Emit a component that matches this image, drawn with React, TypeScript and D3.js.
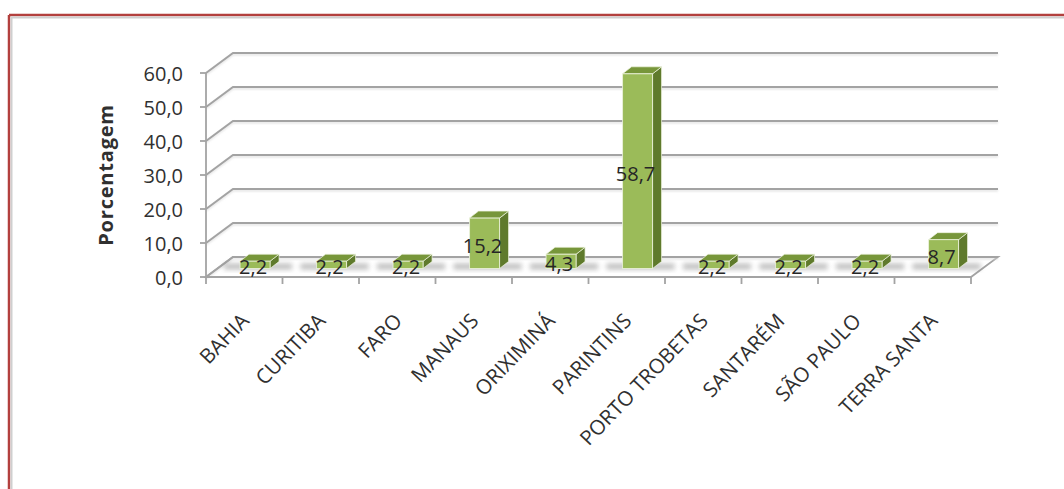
import React from "react";
import * as d3 from "d3";

const categories = ["BAHIA", "CURITIBA", "FARO", "MANAUS", "ORIXIMINÁ", "PARINTINS", "PORTO TROBETAS", "SANTARÉM", "SÃO PAULO", "TERRA SANTA"];
const values = [2.2, 2.2, 2.2, 15.2, 4.3, 58.7, 2.2, 2.2, 2.2, 8.7];
const yTicks = [0, 10, 20, 30, 40, 50, 60];
const yTitle = "Porcentagem";

const W = 1064;
const H = 489;
const DX = 27; // depth offset of back wall
const DY = -20;
const BAR_D = 0.4; // depth fraction of bar front face
const SIDE_DX = 9;
const SIDE_DY = -7;
const BAR_W = 30;

const fmt = (v: number) => v.toFixed(1).replace(".", ",");

export default function App() {
  const x = d3.scaleBand<string>().domain(categories).range([206, 971]).padding(0);
  const y = d3.scaleLinear().domain([0, 60]).range([277, 73]);
  const yBar = d3.scaleLinear().domain([0, 60]).range([277 + DY * BAR_D - 0.5, 277 + DY * BAR_D - 0.5 - 199]);

  const x0 = x.range()[0];
  const x1 = x.range()[1];
  const y0 = y(0);
  const font = "'Open Sans', sans-serif";
  const txt = "#303030";
  const grid = "#a3a3a3";

  const boundaries = categories.map((c) => x(c) as number).concat([x1]);

  return (
    <svg width={W} height={H} style={{ position: "absolute", left: 0, top: 0, background: "#fff" }}>
      <defs>
        <filter id="blur" x="-50%" y="-50%" width="200%" height="200%">
          <feGaussianBlur stdDeviation="2.5" />
        </filter>
        <filter id="lshadow" x="-5%" y="-50%" width="110%" height="200%">
          <feGaussianBlur stdDeviation="0.8" />
        </filter>
      </defs>
      {/* outer frame */}
      <line x1={9} y1={15} x2={W} y2={15} stroke="#b3403e" strokeWidth={2.5} />
      <line x1={9} y1={15} x2={9} y2={H} stroke="#b3403e" strokeWidth={2.5} />
      <line x1={11} y1={17.5} x2={W} y2={17.5} stroke="#cfcfcf" strokeWidth={2} />
      <line x1={11.5} y1={17} x2={11.5} y2={H} stroke="#cfcfcf" strokeWidth={2} />

      {/* floor */}
      <polygon
        points={`${x0},${y0} ${x1},${y0} ${x1 + DX},${y0 + DY} ${x0 + DX},${y0 + DY}`}
        fill="#fff"
        stroke={grid}
        strokeWidth={1.8}
      />

      {/* gridlines: side wall + back wall */}
      {yTicks.map((t) => (
        <g key={"g" + t}>
          <polyline
            points={`${x0},${y(t) + 1.5} ${x0 + DX},${y(t) + DY + 1.5} ${x1 + DX},${y(t) + DY + 1.5}`}
            fill="none"
            stroke="#d8d8d8"
            strokeWidth={1.5}
            filter="url(#lshadow)"
          />
          <polyline
            points={`${x0},${y(t)} ${x0 + DX},${y(t) + DY} ${x1 + DX},${y(t) + DY}`}
            fill="none"
            stroke={grid}
            strokeWidth={2}
          />
          <line x1={x0 - 6} y1={y(t)} x2={x0} y2={y(t)} stroke={grid} strokeWidth={1.8} />
          <text
            x={183}
            y={y(t)}
            textAnchor="end"
            dominantBaseline="central"
            fontFamily={font}
            fontSize={20}
            fill={txt}
          >
            {fmt(t)}
          </text>
        </g>
      ))}
      {/* vertical axis line */}
      <line x1={x0} y1={y(60)} x2={x0} y2={y0} stroke={grid} strokeWidth={1.8} />
      {/* floor front line & ticks */}
      <line x1={x0} y1={y0} x2={x1} y2={y0} stroke={grid} strokeWidth={2} />
      {boundaries.map((b, i) => (
        <line key={"t" + i} x1={b} y1={y0} x2={b} y2={y0 + 7} stroke={grid} strokeWidth={1.8} />
      ))}

      {/* bar shadows */}
      {categories.map((c, i) => {
        const cx = (x(c) as number) + x.bandwidth() / 2 + DX * BAR_D;
        const by = yBar(0);
        return (
          <rect
            key={"s" + i}
            x={cx - BAR_W / 2 - 16}
            y={by - 5}
            width={BAR_W + 38}
            height={6}
            fill="#8a8a8a"
            opacity={0.55}
            filter="url(#blur)"
          />
        );
      })}

      {/* bars */}
      {categories.map((c, i) => {
        const v = values[i];
        const cx = (x(c) as number) + x.bandwidth() / 2 + DX * BAR_D;
        const l = cx - BAR_W / 2;
        const r = cx + BAR_W / 2;
        const b = yBar(0);
        const t = yBar(v);
        return (
          <g key={"b" + i}>
            <polygon
              points={`${r},${b} ${r + SIDE_DX},${b + SIDE_DY} ${r + SIDE_DX},${t + SIDE_DY} ${r},${t}`}
              fill="#5f7a2c"
              stroke="#eef4e0"
              strokeWidth={1}
              strokeOpacity={0.7}
            />
            <polygon
              points={`${l},${t} ${r},${t} ${r + SIDE_DX},${t + SIDE_DY} ${l + SIDE_DX},${t + SIDE_DY}`}
              fill="#77963a"
              stroke="#eef4e0"
              strokeWidth={1}
              strokeOpacity={0.7}
            />
            <rect x={l} y={t} width={BAR_W} height={b - t} fill="#9bbb59" stroke="#eef4e0" strokeWidth={1} strokeOpacity={0.8} />
          </g>
        );
      })}

      {/* data labels */}
      {categories.map((c, i) => {
        const v = values[i];
        const cx = (x(c) as number) + x.bandwidth() / 2 + DX * BAR_D - 2;
        const my = (yBar(0) + yBar(v)) / 2 + 2;
        return (
          <text
            key={"l" + i}
            x={cx}
            y={my}
            textAnchor="middle"
            dominantBaseline="central"
            fontFamily={font}
            fontSize={20}
            fill="#262626"
          >
            {fmt(v)}
          </text>
        );
      })}

      {/* category labels */}
      {categories.map((c, i) => {
        const px = (x(c) as number) + x.bandwidth() / 2 + 6;
        const py = 322;
        return (
          <g key={"c" + i} transform={`translate(${px},${py})`}>
            <text
              x={0}
              y={0}
              textAnchor="end"
              fontFamily={font}
              fontSize={20.5}
              fill={txt}
              transform="rotate(-46)"
            >
              {c}
            </text>
          </g>
        );
      })}

      {/* y axis title */}
      <text
        x={0}
        y={0}
        textAnchor="middle"
        dominantBaseline="central"
        fontFamily={font}
        fontWeight="bold"
        fontSize={20}
        letterSpacing={0.8}
        fill={txt}
        transform={`translate(105,175) rotate(-90)`}
      >
        {yTitle}
      </text>
    </svg>
  );
}
